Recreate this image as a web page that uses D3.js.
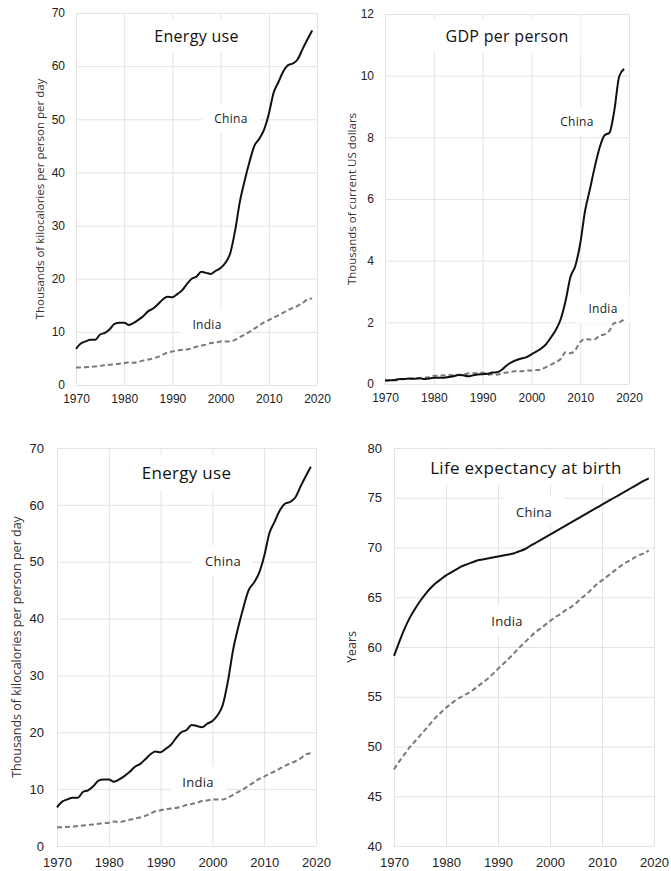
<!DOCTYPE html>
<html>
<head>
<meta charset="utf-8">
<script src="https://cdn.jsdelivr.net/npm/d3@7"></script>
<style>
  body { margin: 0; background: #fff; }
  svg { display: block; font-family: "Open Sans", "Noto Sans", sans-serif; }
</style>
</head>
<body>
<div id="chart"></div>
<script>
// Años 1970-2019
const years = d3.range(1970, 2020);

// Energía: miles de kcal por persona por día
const energyChina = [6.8, 7.8, 8.2, 8.5, 8.5, 9.5, 9.8, 10.5, 11.5, 11.7,
  11.7, 11.3, 11.7, 12.3, 13.0, 13.9, 14.4, 15.2, 16.1, 16.6,
  16.5, 17.1, 17.8, 19.0, 20.0, 20.4, 21.3, 21.1, 20.9, 21.5,
  22.0, 23.0, 24.8, 29.0, 34.5, 38.5, 42.0, 45.0, 46.3, 48.0,
  51.0, 55.0, 57.0, 59.0, 60.2, 60.5, 61.3, 63.2, 65.0, 66.7];
const energyIndia = [3.3, 3.3, 3.35, 3.4, 3.5, 3.6, 3.7, 3.8, 3.9, 4.0,
  4.1, 4.3, 4.2, 4.4, 4.6, 4.8, 5.0, 5.3, 5.7, 6.1,
  6.3, 6.5, 6.6, 6.7, 6.9, 7.2, 7.4, 7.6, 7.9, 8.0,
  8.2, 8.2, 8.2, 8.5, 9.0, 9.5, 10.0, 10.6, 11.2, 11.8,
  12.2, 12.7, 13.1, 13.6, 14.1, 14.5, 14.9, 15.4, 16.1, 16.3];

// PIB por persona: miles de dólares corrientes
const gdpChina = [0.11, 0.12, 0.13, 0.16, 0.16, 0.18, 0.17, 0.19, 0.16, 0.18,
  0.20, 0.20, 0.20, 0.23, 0.25, 0.29, 0.28, 0.25, 0.28, 0.31,
  0.32, 0.33, 0.37, 0.38, 0.47, 0.61, 0.71, 0.78, 0.83, 0.87,
  0.96, 1.05, 1.15, 1.29, 1.51, 1.75, 2.10, 2.69, 3.47, 3.83,
  4.55, 5.62, 6.32, 7.05, 7.68, 8.07, 8.15, 8.88, 9.98, 10.22];
const gdpIndia = [0.11, 0.12, 0.12, 0.14, 0.16, 0.16, 0.16, 0.19, 0.21, 0.22,
  0.27, 0.27, 0.28, 0.29, 0.28, 0.30, 0.31, 0.34, 0.35, 0.35,
  0.37, 0.30, 0.32, 0.30, 0.35, 0.37, 0.40, 0.42, 0.41, 0.44,
  0.44, 0.45, 0.47, 0.55, 0.63, 0.71, 0.81, 1.03, 1.00, 1.10,
  1.36, 1.46, 1.44, 1.45, 1.57, 1.61, 1.73, 1.98, 2.00, 2.10];

// Esperanza de vida al nacer (años)
const lifeChina = [59.1, 60.5, 61.8, 62.9, 63.8, 64.6, 65.3, 65.9, 66.4, 66.8,
  67.2, 67.5, 67.8, 68.1, 68.3, 68.5, 68.7, 68.8, 68.9, 69.0,
  69.1, 69.2, 69.3, 69.4, 69.6, 69.8, 70.1, 70.4, 70.7, 71.0,
  71.3, 71.6, 71.9, 72.2, 72.5, 72.8, 73.1, 73.4, 73.7, 74.0,
  74.3, 74.6, 74.9, 75.2, 75.5, 75.8, 76.1, 76.4, 76.7, 76.95];
const lifeIndia = [47.7, 48.5, 49.2, 49.9, 50.5, 51.1, 51.7, 52.3, 52.9, 53.4,
  53.9, 54.3, 54.7, 55.0, 55.3, 55.6, 56.0, 56.4, 56.8, 57.3,
  57.8, 58.3, 58.8, 59.3, 59.9, 60.4, 60.9, 61.4, 61.8, 62.2,
  62.6, 63.0, 63.3, 63.7, 64.0, 64.4, 64.9, 65.3, 65.8, 66.3,
  66.7, 67.1, 67.5, 67.9, 68.3, 68.6, 68.9, 69.2, 69.4, 69.7];

// Etiquetas de ejes
const xTicks = [1970, 1980, 1990, 2000, 2010, 2020];
const energyTicks = [0, 10, 20, 30, 40, 50, 60, 70];
const gdpTicks = [0, 2, 4, 6, 8, 10, 12];
const lifeTicks = [40, 45, 50, 55, 60, 65, 70, 75, 80];

const svg = d3.select('#chart')
  .append('svg')
  .attr('width', 671)
  .attr('height', 871);

// Paneles: caja de trazado y posiciones de textos
const panels = [
  { title: 'Energy use', yLabel: 'Thousands of kilocalories per person per day',
    china: energyChina, india: energyIndia, yTicks: energyTicks,
    box: [76, 13, 317, 385], yLabelX: 40, titleY: 36,
    chinaPos: [231, 119], indiaPos: [207, 325], xPad: 9, yPad: 11, font: 12 },
  { title: 'GDP per person', yLabel: 'Thousands of current US dollars',
    china: gdpChina, india: gdpIndia, yTicks: gdpTicks,
    box: [385, 14, 629, 384], yLabelX: 352, titleY: 36,
    chinaPos: [577, 122], indiaPos: [603, 309], xPad: 9, yPad: 11, font: 12 },
  { title: 'Energy use', yLabel: 'Thousands of kilocalories per person per day',
    china: energyChina, india: energyIndia, yTicks: energyTicks,
    box: [57, 448, 316, 846], yLabelX: 17, titleY: 473,
    chinaPos: [223, 561], indiaPos: [198, 782], xPad: 12, yPad: 13, font: 13 },
  { title: 'Life expectancy at birth', yLabel: 'Years',
    china: lifeChina, india: lifeIndia, yTicks: lifeTicks,
    box: [394, 448, 654, 846], yLabelX: 352, titleY: 468,
    chinaPos: [534, 512], indiaPos: [507, 621], xPad: 12, yPad: 12, font: 13 }
];

panels.forEach(drawPanel);

function drawPanel(p) {
  const [x0, y0, x1, y1] = p.box;
  const yExt = d3.extent(p.yTicks);

  const x = d3.scaleLinear().domain([1970, 2020]).range([x0, x1]);
  const y = d3.scaleLinear().domain(yExt).range([y1, y0]);

  const g = svg.append('g');

  // Rejilla vertical + etiquetas de años
  const gx = g.append('g')
    .attr('transform', `translate(0,${y1})`)
    .call(d3.axisBottom(x).tickValues(xTicks).tickFormat(d3.format('d'))
      .tickSize(-(y1 - y0)).tickPadding(p.xPad));

  // Rejilla horizontal + etiquetas del eje y
  const gy = g.append('g')
    .attr('transform', `translate(${x0},0)`)
    .call(d3.axisLeft(y).tickValues(p.yTicks)
      .tickSize(-(x1 - x0)).tickPadding(p.yPad));

  [gx, gy].forEach(a => {
    a.select('.domain').remove();
    a.selectAll('line').attr('stroke', '#e3e3e3').attr('stroke-width', 1);
    a.selectAll('text').attr('fill', '#222').style('font-size', p.font + 'px');
  });

  // Título del eje y
  g.append('text')
    .attr('transform', `translate(${p.yLabelX},${(y0 + y1) / 2}) rotate(-90)`)
    .attr('text-anchor', 'middle')
    .attr('dy', '0.35em')
    .attr('fill', '#333')
    .style('font-size', (p.font - 0.5) + 'px')
    .text(p.yLabel);

  // Etiquetas con fondo blanco (tapan la rejilla)
  const labels = [
    { text: p.title, pos: [(x0 + x1) / 2 + (p.title === 'Life expectancy at birth' ? 2 : 0), p.titleY], size: p.font + 4, color: '#111' },
    { text: 'China', pos: p.chinaPos, size: p.font, color: '#222' },
    { text: 'India', pos: p.indiaPos, size: p.font, color: '#222' }
  ];
  labels.forEach(l => {
    const lg = g.append('g');
    const t = lg.append('text')
      .attr('x', l.pos[0]).attr('y', l.pos[1])
      .attr('text-anchor', 'middle')
      .attr('dy', '0.35em')
      .attr('fill', l.color)
      .style('font-size', l.size + 'px')
      .style('letter-spacing', '0.3px')
      .text(l.text);
    const b = t.node().getBBox();
    lg.insert('rect', 'text')
      .attr('x', b.x - 12).attr('y', b.y - 6)
      .attr('width', b.width + 24).attr('height', b.height + 12)
      .attr('fill', '#fff');
  });

  const line = data => d3.line()
    .x((d, i) => x(years[i]))
    .y(d => y(d))
    .curve(d3.curveMonotoneX)(data);

  g.append('path')
    .attr('d', line(p.india))
    .attr('fill', 'none')
    .attr('stroke', '#7a7a7a')
    .attr('stroke-width', 2)
    .attr('stroke-dasharray', '5,3');

  g.append('path')
    .attr('d', line(p.china))
    .attr('fill', 'none')
    .attr('stroke', '#111')
    .attr('stroke-width', 2);
}
</script>
</body>
</html>
